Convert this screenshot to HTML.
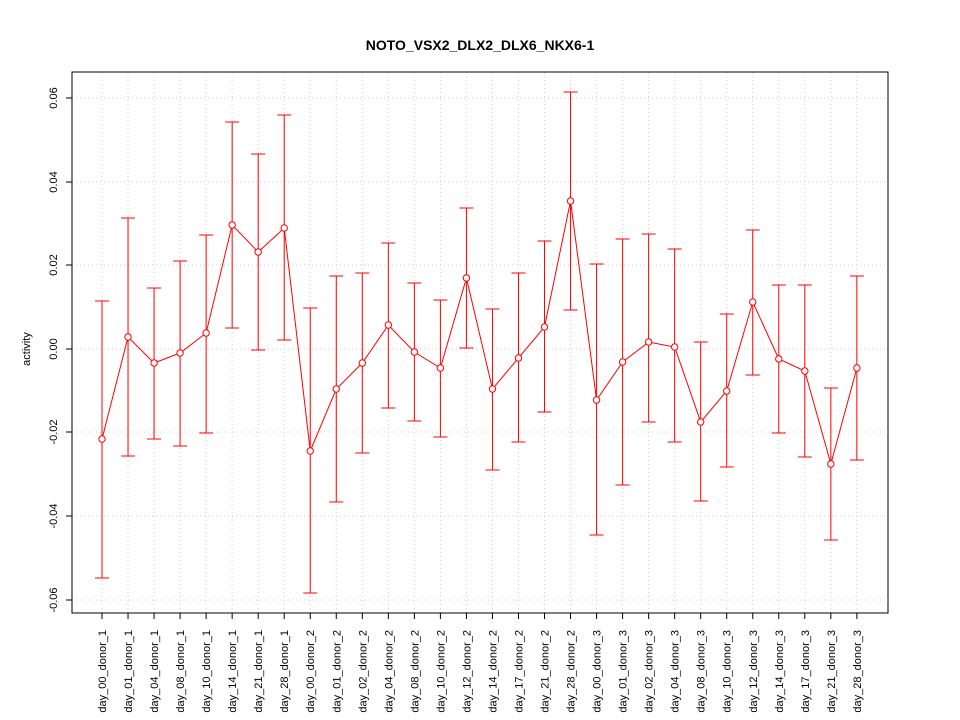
<!DOCTYPE html>
<html><head><style>body{margin:0;background:#fff}svg{display:block}</style></head><body>
<svg id="s" width="960" height="720" xmlns="http://www.w3.org/2000/svg" font-family="Liberation Sans, sans-serif">
<rect width="960" height="720" fill="#fff"/>
<text x="480" y="50" text-anchor="middle" font-weight="bold" font-size="14">NOTO_VSX2_DLX2_DLX6_NKX6-1</text>
<g id="g"></g>
<rect x="72" y="72" width="816" height="541" fill="none" stroke="#000" stroke-width="1"/>
<text transform="translate(30,349) rotate(-90)" text-anchor="middle" font-size="11">activity</text>
</svg>
<script>
var d=[[439,301,578],[337,218,456],[363,288,439],[353,261,446],[333,235,433],[225,122,328],[252,154,350],[228,115,340],[451,308,593],[389,276,502],[363,273,453],[325,243,408],[352,283,421],[368,300,437],[278,208,348],[389,309,470],[358,273,442],[327,241,412],[201,92,310],[400,264,535],[362,239,485],[342,234,422],[347,249,442],[422,342,501],[391,314,467],[302,230,375],[359,285,433],[371,285,457],[464,388,540],[368,276,460]];
var n=["day_00_donor_1","day_01_donor_1","day_04_donor_1","day_08_donor_1","day_10_donor_1","day_14_donor_1","day_21_donor_1","day_28_donor_1","day_00_donor_2","day_01_donor_2","day_02_donor_2","day_04_donor_2","day_08_donor_2","day_10_donor_2","day_12_donor_2","day_14_donor_2","day_17_donor_2","day_21_donor_2","day_28_donor_2","day_00_donor_3","day_01_donor_3","day_02_donor_3","day_04_donor_3","day_08_donor_3","day_10_donor_3","day_12_donor_3","day_14_donor_3","day_17_donor_3","day_21_donor_3","day_28_donor_3"];
var h="",pts=[];
var yt=[[98,"0.06"],[182,"0.04"],[265,"0.02"],[349,"0.00"],[432,"-0.02"],[516,"-0.04"],[600,"-0.06"]];
yt.forEach(function(t){h+='<line x1="72" x2="888" y1="'+t[0]+'" y2="'+t[0]+'" stroke="#ccc" stroke-dasharray="1,3"/>';
h+='<line x1="66" x2="72" y1="'+t[0]+'" y2="'+t[0]+'" stroke="#000"/>';
h+='<text transform="translate(57,'+t[0]+') rotate(-90)" text-anchor="middle" font-size="11">'+t[1]+'</text>';});
d.forEach(function(v,i){var x=102+i*26.03;
h+='<line x1="'+x+'" x2="'+x+'" y1="72" y2="613" stroke="#ccc" stroke-dasharray="1,3"/>';
h+='<line x1="'+x+'" x2="'+x+'" y1="613" y2="619" stroke="#000"/>';
h+='<text transform="translate('+(x+4)+',630) rotate(-90)" text-anchor="end" font-size="11">'+n[i]+'</text>';
h+='<line x1="'+x+'" x2="'+x+'" y1="'+v[1]+'" y2="'+v[2]+'" stroke="red"/>';
h+='<line x1="'+(x-7)+'" x2="'+(x+7)+'" y1="'+v[1]+'" y2="'+v[1]+'" stroke="red"/>';
h+='<line x1="'+(x-7)+'" x2="'+(x+7)+'" y1="'+v[2]+'" y2="'+v[2]+'" stroke="red"/>';
pts.push(x+','+v[0]);});
h+='<polyline points="'+pts.join(' ')+'" fill="none" stroke="red"/>';
d.forEach(function(v,i){var x=102+i*26.03;h+='<circle cx="'+x+'" cy="'+v[0]+'" r="3.2" fill="#fff" stroke="red"/>';});
document.getElementById("g").innerHTML=h;
</script>
</body></html>
